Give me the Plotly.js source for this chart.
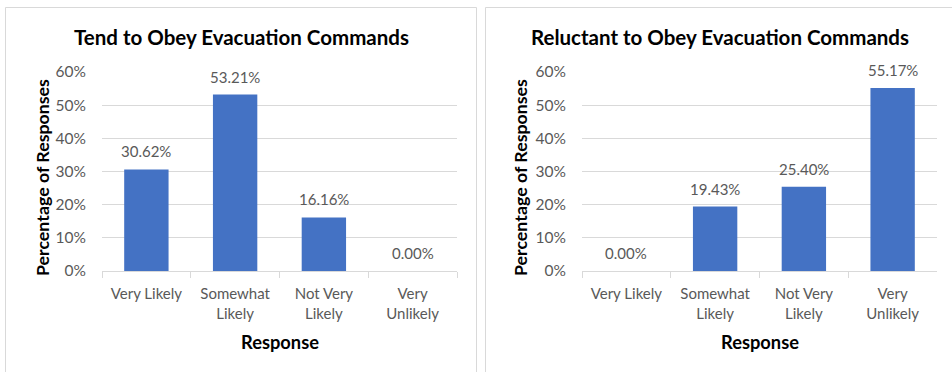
<!DOCTYPE html>
<html>
<head>
<meta charset="utf-8">
<script src="https://cdn.plot.ly/plotly-3.0.1.min.js"></script>
<style>
  html, body { margin: 0; padding: 0; background: #ffffff; }
  #chart { width: 952px; height: 372px; }
</style>
</head>
<body>
<div id="chart"></div>
<script>
// Response categories shared by both charts
const categories = ['Very Likely', 'Somewhat<br>Likely', 'Not Very<br>Likely', 'Very<br>Unlikely'];

// Percentage of responses per category
const obeyValues = [30.62, 53.21, 16.16, 0.00];
const reluctantValues = [0.00, 19.43, 25.40, 55.17];

// Y axis ticks
const yTickValues = [0, 10, 20, 30, 40, 50, 60];
const yTickLabels = ['0%', '10%', '20%', '30%', '40%', '50%', '60%'];

// Titles
const chartTitles = ['Tend to Obey Evacuation Commands', 'Reluctant to Obey Evacuation Commands'];
const yAxisTitle = 'Percentage of Responses';
const xAxisTitle = 'Response';

const W = 952, H = 372;
const px = v => v / W;           // horizontal pixel -> paper
const py = v => (H - v) / H;     // vertical pixel (from top) -> paper

const FONT = 'Lato, "Open Sans", sans-serif';
const GRAY = '#595959';
const GRID = '#d9d9d9';
const BAR = '#4472c4';

const panels = [
  { values: obeyValues, x0: 102, x1: 457, title: chartTitles[0], titleX: 241, yTitleX: 42 },
  { values: reluctantValues, x0: 582, x1: 937, title: chartTitles[1], titleX: 720, yTitleX: 520 }
];

const plotTop = 72, plotBottom = 271;

const traces = [];
const annotations = [];
const layout = {
  width: W, height: H,
  margin: { l: 0, r: 0, t: 0, b: 0 },
  paper_bgcolor: '#ffffff',
  plot_bgcolor: '#ffffff',
  showlegend: false,
  bargap: 0.5,
  font: { family: FONT, color: GRAY, size: 15 },
  shapes: [
    // chart frames
    { type: 'rect', xref: 'paper', yref: 'paper', x0: px(5.5), x1: px(476.5), y0: -0.1, y1: py(7.5),
      line: { color: GRID, width: 1 }, fillcolor: 'rgba(0,0,0,0)', layer: 'below' },
    { type: 'rect', xref: 'paper', yref: 'paper', x0: px(485.5), x1: 1.1, y0: -0.1, y1: py(7.5),
      line: { color: GRID, width: 1 }, fillcolor: 'rgba(0,0,0,0)', layer: 'below' }
  ],
  annotations: annotations
};

panels.forEach((p, i) => {
  const xa = i === 0 ? 'x' : 'x2';
  const ya = i === 0 ? 'y' : 'y2';
  traces.push({
    type: 'bar',
    x: categories,
    y: p.values,
    xaxis: xa, yaxis: ya,
    marker: { color: BAR },
    hoverinfo: 'skip'
  });

  layout[i === 0 ? 'xaxis' : 'xaxis2'] = {
    domain: [px(p.x0), px(p.x1)],
    anchor: ya,
    type: 'category',
    tickson: 'boundaries',
    ticks: 'outside',
    ticklen: 6,
    tickcolor: GRID,
    showline: true,
    linecolor: GRID,
    linewidth: 1,
    showgrid: false,
    tickfont: { family: FONT, size: 15, color: GRAY },
    ticklabelstandoff: 9,
    fixedrange: true
  };
  layout[i === 0 ? 'yaxis' : 'yaxis2'] = {
    domain: [py(plotBottom), py(plotTop)],
    anchor: xa,
    range: [0, 60],
    tickvals: yTickValues,
    ticktext: yTickLabels,
    showgrid: true,
    gridcolor: GRID,
    gridwidth: 1,
    zeroline: false,
    showline: false,
    ticks: '',
    tickfont: { family: FONT, size: 15.5, color: GRAY },
    ticklabelstandoff: 15,
    fixedrange: true
  };

  // value labels above each bar
  p.values.forEach((v, k) => {
    annotations.push({
      xref: xa, yref: ya, x: categories[k], y: v,
      text: v.toFixed(2) + '%',
      showarrow: false, yanchor: 'middle', yshift: 18,
      font: { family: FONT, size: 15, color: GRAY }
    });
  });

  // chart title
  annotations.push({
    xref: 'paper', yref: 'paper', x: px(p.titleX), y: py(37),
    text: '<b>' + p.title + '</b>', showarrow: false,
    xanchor: 'center', yanchor: 'middle',
    font: { family: FONT, size: 20.5, color: '#000000' }
  });
  // y axis title
  annotations.push({
    xref: 'paper', yref: 'paper', x: px(p.yTitleX), y: py(178),
    text: '<b>' + yAxisTitle + '</b>', showarrow: false, textangle: -90,
    xanchor: 'center', yanchor: 'middle',
    font: { family: FONT, size: 17.8, color: '#000000' }
  });
  // x axis title
  annotations.push({
    xref: 'paper', yref: 'paper', x: px((p.x0 + p.x1) / 2), y: py(342),
    text: '<b>' + xAxisTitle + '</b>', showarrow: false,
    xanchor: 'center', yanchor: 'middle',
    font: { family: FONT, size: 18.3, color: '#000000' }
  });
});

Plotly.newPlot('chart', traces, layout, { staticPlot: true, displayModeBar: false });
</script>
</body>
</html>
